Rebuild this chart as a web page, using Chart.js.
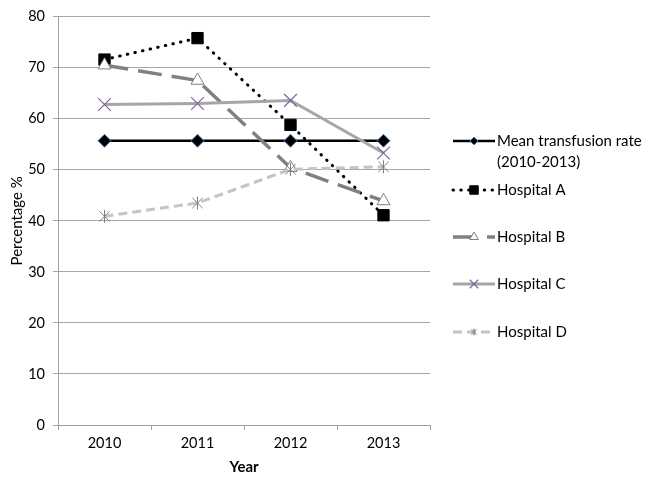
<!DOCTYPE html>
<html>
<head>
<meta charset="utf-8">
<script src="https://cdn.jsdelivr.net/npm/chart.js@4"></script>
<style>
  html, body { margin: 0; padding: 0; background: #ffffff; }
  #wrap { width: 646px; height: 477px; position: relative; }
</style>
</head>
<body>
<div id="wrap"><canvas id="chart" width="646" height="477"></canvas></div>
<script>
// Transfusion rates by year
const years = ['2010', '2011', '2012', '2013'];
const meanRate  = [55.7, 55.7, 55.7, 55.7];
const hospitalA = [71.6, 75.8, 58.8, 41.1];
const hospitalB = [70.5, 67.5, 50.4, 43.9];
const hospitalC = [62.8, 63.0, 63.6, 53.3];
const hospitalD = [40.9, 43.5, 50.1, 50.6];
const yTicks = [0, 10, 20, 30, 40, 50, 60, 70, 80];

const FONT = 'Lato, "Open Sans", sans-serif';

// Asterisk marker: an X with a vertical stroke
function makeStar(size, color) {
  const c = document.createElement('canvas');
  c.width = size; c.height = size;
  const g = c.getContext('2d');
  g.strokeStyle = color;
  g.lineWidth = 1;
  const m = size / 2, r = size / 2 - 1;
  const d = r * 0.8;
  g.beginPath();
  g.moveTo(m - d, m - d); g.lineTo(m + d, m + d);
  g.moveTo(m + d, m - d); g.lineTo(m - d, m + d);
  g.moveTo(m, m - r); g.lineTo(m, m + r);
  g.stroke();
  return c;
}
const starMarker = makeStar(15, '#7f7f7f');
const starSmall = makeStar(9, '#7f7f7f');

const datasets = [
  {
    label: ['Mean transfusion rate', '(2010-2013)'],
    data: meanRate,
    borderColor: '#000000', borderWidth: 2.5,
    pointStyle: 'rectRot', pointRadius: 6.5,
    pointBackgroundColor: '#000000', pointBorderColor: '#4a7ebb', pointBorderWidth: 1,
    order: 5
  },
  {
    label: ['Hospital A'],
    data: hospitalA,
    borderColor: '#000000', borderWidth: 3,
    borderDash: [0.5, 7.3], borderCapStyle: 'round',
    pointStyle: 'rect', pointRadius: 8,
    pointBackgroundColor: '#000000', pointBorderColor: '#000000', pointBorderWidth: 1,
    order: 4
  },
  {
    label: ['Hospital B'],
    data: hospitalB,
    borderColor: '#808080', borderWidth: 3.5,
    borderDash: [24, 10],
    pointStyle: 'triangle', pointRadius: 7.5,
    pointBackgroundColor: '#ffffff', pointBorderColor: '#7f7f7f', pointBorderWidth: 1,
    order: 3
  },
  {
    label: ['Hospital C'],
    data: hospitalC,
    borderColor: '#a6a6a6', borderWidth: 3,
    pointStyle: 'crossRot', pointRadius: 9,
    pointBackgroundColor: '#8064a2', pointBorderColor: '#8064a2', pointBorderWidth: 1.2,
    order: 2
  },
  {
    label: ['Hospital D'],
    data: hospitalD,
    borderColor: '#c4c4c4', borderWidth: 3,
    borderDash: [9, 5],
    pointStyle: starMarker, pointRadius: 7.5,
    order: 1
  }
];

// Smaller markers for the legend samples
const legendMarkers = [
  { style: 'rectRot', radius: 4 },
  { style: 'rect', radius: 6 },
  { style: 'triangle', radius: 5 },
  { style: 'crossRot', radius: 6 },
  { style: starSmall, radius: 4.5 }
];

// Legend on the right: line sample with centred marker, then text
const legendRows = [141, 190, 237, 284, 332];
const sideLegend = {
  id: 'sideLegend',
  afterDraw(chart) {
    const ctx = chart.ctx;
    const x0 = 453, x1 = 495, xm = 474, tx = 497;
    chart.data.datasets.forEach((ds, i) => {
      const y = legendRows[i];
      ctx.save();
      ctx.strokeStyle = ds.borderColor;
      ctx.lineWidth = ds.borderWidth;
      ctx.lineCap = ds.borderCapStyle || 'butt';
      ctx.setLineDash(ds.borderDash || []);
      ctx.beginPath();
      ctx.moveTo(x0, y); ctx.lineTo(x1, y);
      ctx.stroke();
      ctx.restore();
      ctx.save();
      const el = chart.getDatasetMeta(i).data[0];
      const mk = legendMarkers[i];
      ctx.fillStyle = el.options.backgroundColor;
      ctx.strokeStyle = el.options.borderColor;
      ctx.lineWidth = ds.pointBorderWidth || 1;
      Chart.helpers.drawPoint(ctx, { pointStyle: mk.style, radius: mk.radius, rotation: 0, borderWidth: ctx.lineWidth }, xm, y);
      ctx.restore();
      ctx.save();
      ctx.fillStyle = '#000000';
      ctx.font = '15px ' + FONT;
      ctx.textBaseline = 'middle';
      ctx.textAlign = 'left';
      ds.label.forEach((line, k) => ctx.fillText(line, tx, y + k * 21));
      ctx.restore();
    });
  }
};

new Chart(document.getElementById('chart'), {
  type: 'line',
  data: { labels: years, datasets },
  options: {
    responsive: false,
    animation: false,
    layout: { padding: { top: 8, right: 216, bottom: 0, left: 0 } },
    plugins: { legend: { display: false }, tooltip: { enabled: false } },
    elements: { line: { tension: 0 } },
    scales: {
      x: {
        offset: true,
        grid: { offset: true, drawOnChartArea: false, drawTicks: true, tickLength: 5, color: '#a0a0a0' },
        border: { color: '#a0a0a0', width: 1 },
        ticks: { color: '#000000', font: { family: FONT, size: 14.5 }, padding: 5, maxRotation: 0 },
        title: { display: true, text: 'Year', color: '#000000', font: { family: FONT, size: 15, weight: 'bold' }, padding: { top: 0, bottom: 1 } },
        afterFit: (s) => { s.height = 52; }
      },
      y: {
        min: 0, max: 80,
        afterBuildTicks: (s) => { s.ticks = yTicks.map(v => ({ value: v })); },
        grid: { color: '#a6a6a6', drawTicks: true, tickLength: 5 },
        border: { color: '#a0a0a0', width: 1 },
        ticks: { color: '#000000', font: { family: FONT, size: 14.5 }, padding: 8 },
        title: { display: true, text: 'Percentage %', color: '#000000', font: { family: FONT, size: 15 }, padding: { top: 8, bottom: 0 } },
        afterFit: (s) => { s.width = 58; }
      }
    }
  },
  plugins: [sideLegend]
});
</script>
</body>
</html>
